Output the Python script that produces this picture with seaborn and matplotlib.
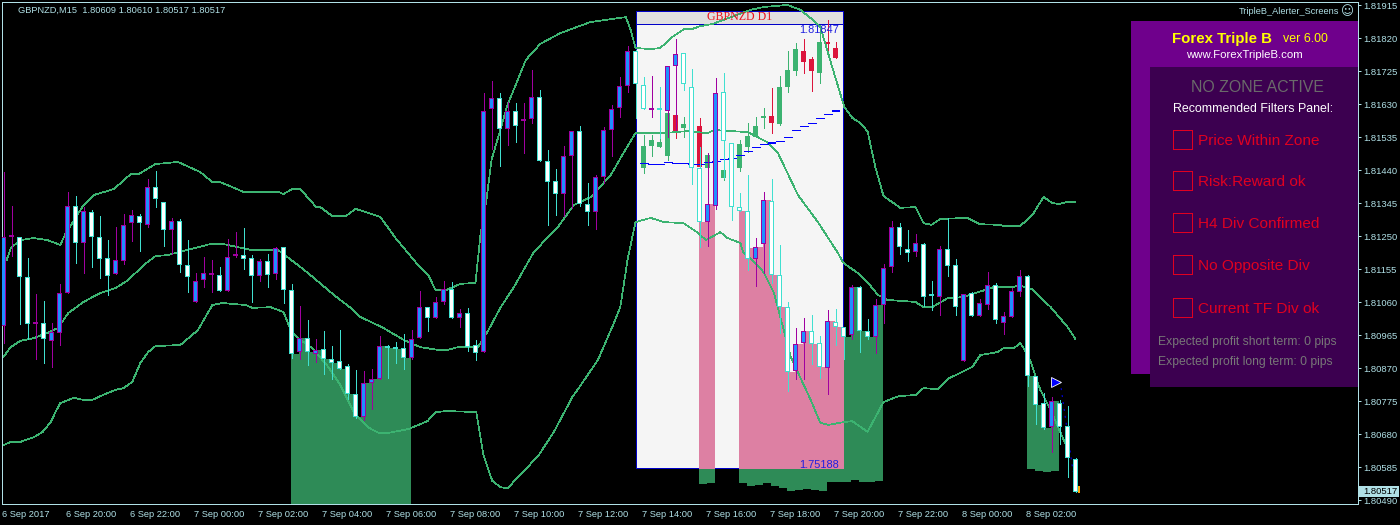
import numpy as np
import pandas as pd
import matplotlib
matplotlib.use("Agg")
import matplotlib.pyplot as plt
from matplotlib.patches import Rectangle
from matplotlib.transforms import ScaledTranslation
import seaborn as sns

# prices are kept in points above 1.80000
BASE = 1.8

symbol_text = "GBPNZD,M15  1.80609 1.80610 1.80517 1.80517"
last_price = "1.80517"

ytick_labels = ["1.81915", "1.81820", "1.81725", "1.81630", "1.81535", "1.81440", "1.81345", "1.81250",
                "1.81155", "1.81060", "1.80965", "1.80870", "1.80775", "1.80680", "1.80585", "1.80490"]
xtick_labels = ["6 Sep 2017", "6 Sep 20:00", "6 Sep 22:00", "7 Sep 00:00", "7 Sep 02:00", "7 Sep 04:00",
                "7 Sep 06:00", "7 Sep 08:00", "7 Sep 10:00", "7 Sep 12:00", "7 Sep 14:00", "7 Sep 16:00",
                "7 Sep 18:00", "7 Sep 20:00", "7 Sep 22:00", "8 Sep 00:00", "8 Sep 02:00"]

opens = [992, 1249, 1248, 1133, 999, 1000, 949, 972, 1087, 1337,
         1231, 1320, 1248, 1188, 1142, 1179, 1288, 1308, 1283, 1392,
         1349, 1268, 1294, 1167, 1061, 1124, 1138, 1139, 1093, 1192,
         1196, 1188, 1136, 1179, 1142, 1219, 1095, 917, 957, 911,
         926, 897, 891, 877, 796, 730, 828, 839, 930, 929,
         928, 900, 957, 1046, 1015, 1061, 1098, 1015, 1029, 937,
         917, 1616, 1648, 1559, 1611, 1581, 1588, 1651, 1467, 1409,
         1372, 1481, 1553, 1343, 1320, 1421, 1556, 1619, 1683, 1783,
         1686, 1615, 1617, 1611, 1740, 1778, 1680, 1447, 1291, 1337,
         1665, 1519, 1334, 1323, 1185, 1228, 1352, 1139, 1046, 862,
         943, 977, 943, 871, 1003, 989, 966, 1104, 977, 960,
         1052, 1162, 1277, 1213, 1205, 1228, 1079, 1075, 1213, 1167,
         891, 1087, 1021, 1052, 1110, 1000, 1018, 1090, 1136, 848,
         770, 701, 770, 704, 609]
closes = [1248, 1252, 1133, 998, 1001, 954, 975, 1087, 1337, 1231,
          1323, 1248, 1185, 1136, 1182, 1283, 1311, 1288, 1392, 1357,
          1268, 1294, 1167, 1133, 1121, 1144, 1140, 1093, 1190, 1194,
          1185, 1136, 1179, 1139, 1216, 1095, 911, 957, 917, 923,
          897, 885, 868, 796, 730, 828, 839, 934, 928, 927,
          900, 954, 1046, 1015, 1061, 1098, 1015, 1029, 931, 914,
          1611, 1648, 1559, 1611, 1568, 1583, 1651, 1467, 1406, 1372,
          1481, 1553, 1343, 1320, 1421, 1556, 1616, 1683, 1783, 1688,
          1616, 1617, 1615, 1740, 1775, 1688, 1447, 1291, 1343, 1663,
          1524, 1334, 1323, 1185, 1219, 1355, 1139, 1046, 859, 940,
          977, 940, 874, 1006, 989, 960, 1104, 977, 960, 1052,
          1159, 1277, 1219, 1202, 1231, 1075, 1077, 1213, 1165, 1046,
          1084, 1021, 1058, 1110, 1009, 1021, 1093, 1136, 848, 764,
          698, 776, 701, 612, 514]
highs = [1435, 1337, 1248, 1188, 1084, 1064, 1000, 1113, 1378, 1366,
         1334, 1326, 1308, 1239, 1277, 1314, 1326, 1314, 1415, 1438,
         1349, 1303, 1300, 1239, 1144, 1190, 1182, 1162, 1242, 1262,
         1274, 1196, 1185, 1199, 1219, 1219, 1113, 1049, 1009, 954,
         977, 934, 980, 882, 865, 862, 868, 963, 937, 946,
         969, 980, 1093, 1046, 1075, 1121, 1118, 1041, 1044, 951,
         1663, 1697, 1663, 1637, 1634, 1634, 1729, 1671, 1499, 1444,
         1510, 1553, 1568, 1403, 1426, 1565, 1628, 1709, 1798, 1786,
         1709, 1712, 1680, 1740, 1818, 1778, 1732, 1507, 1490, 1706,
         1720, 1519, 1375, 1426, 1245, 1378, 1415, 1225, 1061, 986,
         1015, 1024, 963, 1038, 1041, 989, 1110, 1107, 1012, 1070,
         1170, 1294, 1288, 1268, 1257, 1231, 1121, 1222, 1303, 1185,
         1084, 1090, 1070, 1147, 1116, 1032, 1101, 1153, 1139, 848,
         799, 787, 779, 761, 612]
lows = [943, 1193, 998, 954, 897, 885, 874, 937, 1087, 1173,
        1144, 1162, 1130, 1081, 1142, 1170, 1237, 1208, 1277, 1334,
        1222, 1199, 1147, 1090, 1061, 1104, 1090, 1093, 1093, 1190,
        1156, 1061, 1121, 1104, 1127, 1058, 900, 897, 880, 888,
        854, 839, 868, 782, 727, 721, 753, 839, 842, 885,
        868, 897, 957, 977, 1015, 1055, 1015, 989, 920, 894,
        917, 1501, 1452, 1513, 1521, 1490, 1576, 1467, 1283, 1311,
        1308, 1331, 1337, 1283, 1271, 1403, 1481, 1593, 1665, 1591,
        1616, 1593, 1533, 1536, 1556, 1671, 1401, 1219, 1222, 1329,
        1418, 1297, 1323, 1153, 1107, 1144, 1116, 972, 805, 839,
        839, 882, 842, 796, 937, 897, 954, 917, 954, 914,
        1000, 1147, 1199, 1179, 1193, 1049, 1038, 1024, 1136, 1024,
        891, 1021, 1021, 1041, 1000, 969, 1018, 1078, 819, 710,
        695, 629, 652, 557, 514]

# bollinger bands, read at their bends: bar number and points
upper_bars = [0.4, 0.9, 2.1, 3.8, 5.5, 7.1, 7.8, 8.6, 10, 11.3, 13.8, 15.9, 16.9, 19, 21.8, 24.6, 26.1, 27.1, 30,
              34.3, 35, 36.1, 37.1, 39.1, 39.6, 41.1, 42.8, 44, 47.1, 49, 51.5, 53.1, 54, 55.3, 57.1, 59, 59.6,
              60.4, 61, 62.1, 63, 65.3, 67.1, 69.6, 73.4, 77.8, 78.4, 79, 80.9, 82.1, 83.6, 85.1, 86.1, 87.1,
              88.6, 93.4, 95, 98, 99.6, 100.9, 102.1, 103.4, 105.1, 106.1, 106.9, 108, 109, 110, 112.1, 114,
              115, 116, 117.1, 120.5, 122, 124.4, 125, 127.1, 128.6, 130, 131.1, 131.9, 133, 134]
upper_vals = [1182, 1216, 1239, 1245, 1239, 1225, 1260, 1288, 1340, 1369, 1386, 1429, 1429, 1458, 1464, 1435, 1406,
              1406, 1378, 1378, 1372, 1386, 1386, 1334, 1334, 1308, 1308, 1329, 1306, 1245, 1176, 1139, 1095,
              1095, 1113, 1116, 1251, 1360, 1470, 1556, 1628, 1758, 1804, 1835, 1867, 1881, 1844, 1792, 1789,
              1792, 1824, 1847, 1847, 1855, 1861, 1902, 1910, 1916, 1902, 1878, 1853, 1752, 1622, 1591, 1579,
              1553, 1447, 1366, 1332, 1334, 1288, 1283, 1300, 1303, 1285, 1283, 1280, 1280, 1311, 1363, 1346,
              1343, 1349, 1349]
middle_bars = [0, 0.9, 2.1, 3.8, 5.5, 6.8, 8.1, 10, 12.1, 14, 15.6, 17.5, 19, 20.5, 23, 25.9, 27.4, 30.9, 34.3,
               35.5, 37.1, 38.8, 41.3, 43.4, 44.6, 47.5, 50, 52.1, 54.3, 55.5, 56.8, 59.3, 60.5, 62.1, 63.8,
               66.3, 69.3, 71.3, 73.4, 75.9, 77.5, 79, 82.5, 85.5, 88, 88.8, 90.9, 93, 95.5, 96.8, 99.3, 101.8,
               104.3, 105, 106.8, 108, 109.3, 110.5, 114, 115, 116.1, 118, 120, 123.8, 126.3, 126.8, 128.6,
               130.9, 133, 134]
middle_vals = [903, 931, 949, 957, 972, 986, 1029, 1061, 1087, 1101, 1124, 1167, 1193, 1196, 1211, 1228, 1228,
               1211, 1211, 1190, 1162, 1130, 1081, 1044, 1018, 986, 952, 931, 923, 923, 931, 931, 975, 1044,
               1104, 1205, 1277, 1340, 1363, 1426, 1490, 1547, 1547, 1553, 1547, 1556, 1553, 1550, 1521, 1490,
               1369, 1291, 1202, 1173, 1144, 1118, 1081, 1067, 1061, 1046, 1046, 1072, 1075, 1104, 1104, 1110,
               1098, 1046, 989, 954]
lower_bars = [0, 0.9, 2.1, 3.8, 4.9, 5.9, 6.5, 7.1, 8.8, 10, 11.1, 12.1, 14, 15, 16.1, 17.1, 18.1, 19, 22.1, 24.3,
              26.1, 27.4, 30.3, 31.1, 33.4, 35, 35.9, 36.8, 38.6, 40.6, 42.1, 43.8, 45.5, 46.9, 48.1, 50.6, 53,
              54, 55.5, 59.1, 60, 61.1, 62.1, 63, 64.6, 66.9, 68.8, 71.1, 71.9, 74.3, 76.3, 77.1, 78, 79, 80.9,
              82.5, 85, 86.8, 87.8, 89.6, 90.5, 92.1, 92.5, 93.6, 95, 96.3, 97.1, 98.4, 100.9, 102.1, 103.1, 105,
              106.1, 108, 110, 111.9, 114, 115, 116.8, 118, 121.1, 122.1, 124.3, 125, 126.3, 127.1, 127.8, 128.4,
              129.6, 130.9, 132.8]
lower_vals = [649, 658, 658, 672, 687, 715, 744, 770, 785, 779, 779, 790, 808, 813, 831, 885, 917, 934, 937, 980,
              1052, 1058, 1052, 1044, 1046, 1032, 980, 957, 928, 874, 822, 744, 701, 684, 684, 695, 718, 744, 747,
              744, 620, 546, 528, 525, 563, 620, 687, 787, 813, 894, 1000, 1046, 1182, 1291, 1303, 1291, 1288,
              1260, 1239, 1262, 1245, 1231, 1202, 1182, 1147, 1087, 1018, 903, 779, 713, 707, 715, 718, 687, 773,
              790, 793, 813, 810, 839, 874, 908, 917, 928, 928, 943, 917, 888, 808, 750, 649]

# supply zones, each runs from its first bar up to the bar after the last
zone1_bars = list(range(36, 51))
zone1_tops = closes[36:51]
zone2_bars = [87, 88]
zone2_tops = closes[87:89]
zone2_bottoms = [537, 540]
zone3_bars = list(range(92, 110))
zone3_tops = [1323, 1216, 1219, 1355, 1139, 1046, 859, 940, 977, 940, 874, 1006, 989, 960, 1104, 977, 960, 1052]
zone3_bottoms = [540, 531, 534, 540, 531, 525, 517, 520, 523, 520, 517, 543, 543, 543, 549, 543, 543, 546]
zone4_bars = [128, 129, 130, 131]
zone4_tops = closes[128:132]
zone4_bottoms = [580, 574, 572, 574]

# daily candles inside the white panel
d1_bars = [80, 81, 82, 83, 84, 85, 87, 88, 90, 92, 93, 94, 95, 96, 97, 98, 99, 100, 101, 102, 103, 104]
d1_opens = [1447, 1510, 1507, 1481, 1599, 1562, 1568, 1447, 1418, 1447, 1507, 1536, 1591, 1596, 1573, 1680, 1726,
            1783, 1760, 1720, 1805, 1792]
d1_closes = [1510, 1527, 1521, 1605, 1553, 1573, 1450, 1484, 1441, 1516, 1539, 1568, 1596, 1576, 1680, 1729, 1789,
             1752, 1726, 1809, 1803, 1763]
d1_highs = [1542, 1542, 1559, 1605, 1628, 1593, 1591, 1490, 1461, 1527, 1576, 1593, 1619, 1677, 1712, 1783, 1807,
            1818, 1766, 1858, 1873, 1809]
d1_lows = [1432, 1481, 1507, 1470, 1533, 1536, 1450, 1378, 1412, 1438, 1493, 1536, 1562, 1547, 1570, 1665, 1714,
           1720, 1668, 1691, 1778, 1763]

ma_bars = list(range(80, 105))
ma_vals = [1461, 1458, 1458, 1464, 1461, 1461, 1458, 1458, 1464, 1467, 1473, 1475, 1484, 1496, 1507, 1516, 1519,
           1524, 1536, 1556, 1568, 1576, 1591, 1602, 1611]

filter_names = ["Price Within Zone", "Risk:Reward ok", "H4 Div Confirmed", "No Opposite Div", "Current TF Div ok"]
profit_lines = ["Expected profit short term: 0 pips", "Expected profit long term: 0 pips"]

W, H = 1400, 525
AXIS = "#b0e0e6"
BAND = "#3cb371"
ZONE_GREEN = "#2e8b57"
ZONE_PINK = "#dd80a3"
UP_EDGE = "#a000a0"
DOWN_EDGE = "#40e0d0"
PX = 0.72
# one pixel measured in points of price
PIPS_PER_PX = 2.8788


def price(points):
    return BASE + np.asarray(points, dtype=float) / 1e5


def fx(x):
    return x / W


def fy(y):
    return 1 - y / H


def label(fig, x, y, text, color, size, ha="left", weight="normal", family="Liberation Sans"):
    fig.text(fx(x), fy(y), text, color=color, fontsize=size, ha=ha, va="center", fontweight=weight,
             family=family, zorder=5)


def box(fig, x0, y0, x1, y1, face, edge="none", lw=0):
    fig.add_artist(Rectangle((fx(x0), fy(y1)), fx(x1) - fx(x0), fy(y0) - fy(y1), transform=fig.transFigure,
                             facecolor=face, edgecolor=edge, linewidth=lw, antialiased=False, zorder=2))


def zone(ax, bars, tops, bottoms, color, zorder, clip=None):
    xs = np.array(list(bars) + [bars[-1] + 1]) - 0.0625
    ys = list(tops) + [tops[-1]]
    lo = list(bottoms) + [bottoms[-1]]
    poly = ax.fill_between(xs, price(lo), price(ys), step="post", color=color, linewidth=0, zorder=zorder,
                           antialiased=False)
    if clip is not None:
        poly.set_clip_path(clip)


def candles(ax, bars, o, h, l, c, up_face, up_edge, down_face, down_edge, zorder):
    bars = np.asarray(bars)
    o, h, l, c = map(np.asarray, (o, h, l, c))
    up = c >= o
    ax.vlines(bars, price(l), price(h), colors=list(np.where(up, up_edge, down_edge)), linewidth=0.5,
              antialiased=False, zorder=zorder)
    body_lo = np.minimum(o, c).astype(float)
    body_hi = np.maximum(o, c).astype(float)
    # the body is at least two pixels tall, a doji is a short thick dash
    thin = body_hi - body_lo < 2 * PIPS_PER_PX
    body_hi[thin] = body_lo[thin] + 2 * PIPS_PER_PX
    ax.bar(bars, price(body_hi) - price(body_lo), bottom=price(body_lo), width=5 / 8,
           color=list(np.where(up, up_edge, down_edge)), linewidth=0, antialiased=False, zorder=zorder + 0.1)
    tall = body_hi - body_lo > 2.5 * PIPS_PER_PX
    inner_lo = body_lo[tall] + PIPS_PER_PX
    inner_hi = body_hi[tall] - PIPS_PER_PX
    ax.bar(bars[tall], price(inner_hi) - price(inner_lo), bottom=price(inner_lo), width=3 / 8,
           color=list(np.where(up, up_face, down_face)[tall]), linewidth=0, antialiased=False, zorder=zorder + 0.2)


sns.set_theme(style="dark", rc={"axes.facecolor": "black", "figure.facecolor": "black"})
plt.rcParams["font.family"] = ["Liberation Sans", "DejaVu Sans"]

fig = plt.figure(figsize=(W / 100, H / 100), dpi=100)
ax = fig.add_axes([2 / W, (H - 504) / H, 1356 / W, 502 / H])

# 1 bar = 8 pixels, first bar at pixel 3.5
ax.set_xlim(-0.1875, 169.3125)
ax.set_ylim(price(479.4), price(1924.5))

panel = Rectangle((79.0625, price(583)), 25.875, price(1899) - price(583), facecolor="#f5f5f5", edgecolor="#0000c8",
                  linewidth=PX, zorder=2)
ax.add_patch(panel)
ax.add_patch(Rectangle((79.0625, price(1861)), 25.875, price(1899) - price(1861), facecolor="#e0e0e0",
                       edgecolor="#0000c8", linewidth=PX, zorder=2.1))

# zones: green behind the panel, pink on it
floor = [479.4] * len(zone1_bars)
zone(ax, zone1_bars, zone1_tops, floor, ZONE_GREEN, 1)
zone(ax, zone2_bars, zone2_tops, zone2_bottoms, ZONE_GREEN, 1)
zone(ax, zone3_bars, zone3_tops, zone3_bottoms, ZONE_GREEN, 1)
zone(ax, zone4_bars, zone4_tops, zone4_bottoms, ZONE_GREEN, 1)
zone(ax, zone2_bars, zone2_tops, zone2_bottoms, ZONE_PINK, 2.2, clip=panel)
zone(ax, zone3_bars, zone3_tops, zone3_bottoms, ZONE_PINK, 2.2, clip=panel)

candles(ax, d1_bars, d1_opens, d1_highs, d1_lows, d1_closes, "#3cb371", "#3cb371", "#dc143c", "#dc143c", 3)

for bars, vals in [(upper_bars, upper_vals), (middle_bars, middle_vals), (lower_bars, lower_vals)]:
    band = pd.DataFrame({"bar": bars, "price": price(vals)})
    sns.lineplot(data=band, x="bar", y="price", color=BAND, linewidth=0.5, sort=False, estimator=None,
                 antialiased=False, ax=ax, zorder=4)

ma_bars = np.asarray(ma_bars)
ma_thick = np.isin(ma_bars, [96, 104])
ax.hlines(price(ma_vals), ma_bars - 0.5, ma_bars + 0.5, colors="#0000ff",
          linewidth=np.where(ma_thick, 2 * PX, PX), antialiased=False, zorder=4.5)

# forecast dots and the cursor arrow
ax.plot([132.2, 133.7], price([813, 572]), color="#0000ff", linewidth=PX, linestyle=(0, (2, 5)), zorder=4.6)
ax.plot([131.6], price([832]), marker=">", markersize=7, color="#0000ff", markeredgecolor="white",
        markeredgewidth=0.6, zorder=7)

candles(ax, range(len(opens)), opens, highs, lows, closes, "#1e90ff", UP_EDGE, "white", DOWN_EDGE, 5)
ax.vlines([134.45], price(511), price(531), colors="#ffa500", linewidth=2 * PX, antialiased=False, zorder=6)

# axis furniture
for side in ax.spines.values():
    side.set_color(AXIS)
    side.set_linewidth(PX)
ax.set_xlabel("")
ax.set_ylabel("")
ax.grid(False)
ax.yaxis.tick_right()
ax.set_yticks([float(t) for t in ytick_labels])
ax.set_yticklabels(ytick_labels)
ax.set_xticks(np.arange(len(xtick_labels)) * 8)
ax.set_xticklabels(xtick_labels, ha="left")
ax.tick_params(axis="y", colors=AXIS, length=2.2, width=PX, pad=1.6, labelsize=6.8)
ax.tick_params(axis="x", colors=AXIS, length=2.2, width=PX, pad=2.4, labelsize=6.7)
shift = ScaledTranslation(-1.5 / 100, 0, fig.dpi_scale_trans)
for t in ax.get_xticklabels():
    t.set_transform(t.get_transform() + shift)

# white panel captions
label(fig, 739.5, 17.5, "GBPNZD D1", "#e8141e", 8.6, ha="center", family="Liberation Serif")
label(fig, 839, 30, "1.81847", "#2020e0", 7.9, ha="right")
label(fig, 839, 465, "1.75188", "#2020e0", 7.9, ha="right")

label(fig, 18, 10, symbol_text, AXIS, 6.7)
label(fig, 1339, 12, "TripleB_Alerter_Screens", AXIS, 6.6, ha="right")
label(fig, 1347, 12, "\u263a", AXIS, 9, ha="center", family="DejaVu Sans")

# last price tag
box(fig, 1359, 486, 1399, 497, AXIS)
label(fig, 1363, 492, last_price, "black", 6.8)

# filters panel on the right
box(fig, 1131, 21, 1358, 374, "#6f008c")
box(fig, 1150, 67, 1358, 387, "#3c0050")
label(fig, 1172, 38.5, "Forex Triple B", "#ffff00", 10.8, weight="bold")
label(fig, 1283, 38.5, "ver 6.00", "#ffff00", 8.9)
label(fig, 1186, 55.5, "www.ForexTripleB.com", "white", 8.2)
label(fig, 1257, 87.5, "NO ZONE ACTIVE", "#6a6a6a", 11.4, ha="center")
label(fig, 1173, 108.5, "Recommended Filters Panel:", "white", 8.9)
for n, name in enumerate(filter_names):
    row_y = [140, 181, 223, 265, 308][n]
    box(fig, 1173, row_y - 10, 1192, row_y + 9, "none", edge="#e00020", lw=0.6)
    label(fig, 1198, row_y + 1, name, "#e00020", 11.1)
label(fig, 1158, 342.5, profit_lines[0], "#777777", 8.7)
label(fig, 1158, 361.5, profit_lines[1], "#777777", 8.7)

fig.savefig("out.png", dpi=100, facecolor="black")
